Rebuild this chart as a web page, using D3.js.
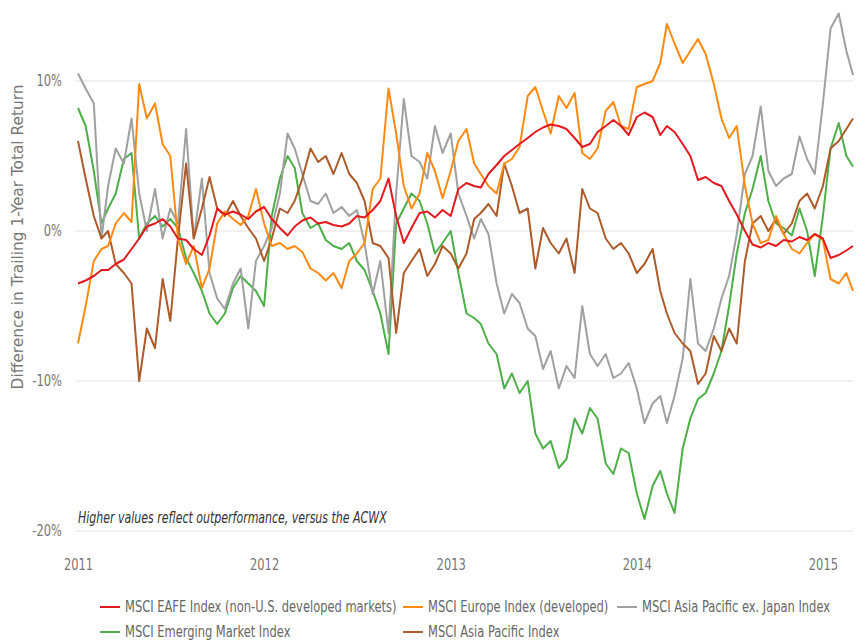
<!DOCTYPE html>
<html>
<head>
<meta charset="utf-8">
<script src="https://cdn.jsdelivr.net/npm/d3@7"></script>
<style>
  body { margin: 0; background: #fff; }
  svg text { font-family: "DejaVu Sans Condensed", "DejaVu Sans", sans-serif; }
</style>
</head>
<body>
<div id="chart"></div>
<script>
var svgWidth = 856;
var svgHeight = 642;

// semi-monthly observation dates, 2011-01-01 .. 2015-03-01
var dates = d3.range(101).map(function(k) {
  var m = Math.floor(k / 2);
  return new Date(2011 + Math.floor(m / 12), m % 12, k % 2 ? 16 : 1);
});

var eafe = [-3.5,-3.3,-3.0,-2.6,-2.6,-2.2,-1.9,-1.2,-0.5,0.3,0.5,0.8,0.3,-0.5,-0.6,-1.2,-1.6,-0.3,1.5,1.1,
  1.3,1.1,0.8,1.3,1.6,0.8,0.2,-0.3,0.3,0.7,0.9,0.5,0.6,0.4,0.3,0.5,1.0,0.9,1.4,2.0,
  3.5,1.0,-0.8,0.2,1.2,1.3,0.9,1.4,1.0,2.8,3.2,3.0,2.9,3.8,4.4,5.0,5.4,5.8,6.2,6.6,
  6.9,7.1,7.0,6.8,6.2,5.6,5.8,6.6,7.0,7.4,7.0,6.4,7.6,7.9,7.6,6.4,7.0,6.6,5.8,5.0,
  3.4,3.6,3.2,3.0,2.0,1.1,0.0,-0.9,-1.1,-0.8,-1.0,-0.6,-0.7,-0.4,-0.6,-0.2,-0.5,-1.8,-1.6,-1.3,-1.0];

var europe = [-7.5,-5.0,-2.0,-1.2,-1.0,0.5,1.2,0.6,9.8,7.5,8.5,5.8,5.0,-0.5,-2.2,-1.0,-3.8,-2.5,0.5,1.3,
  0.8,0.4,1.0,2.8,0.5,-1.0,-0.8,-1.2,-1.0,-1.4,-2.5,-2.8,-3.3,-2.8,-3.8,-2.0,-1.5,-0.8,2.8,3.5,
  9.5,6.5,3.0,1.5,2.5,5.2,4.0,2.2,4.0,6.0,6.8,4.5,3.8,3.0,2.5,4.5,4.8,5.6,9.0,9.6,
  8.0,6.5,9.0,8.2,9.2,5.2,4.8,5.5,8.0,8.6,7.0,6.8,9.6,9.8,10.0,11.2,13.8,12.5,11.2,12.0,
  12.8,11.8,9.8,7.5,6.2,7.0,3.0,0.5,-0.8,-0.6,1.0,-0.2,-1.2,-1.5,-0.8,-0.2,-0.6,-3.2,-3.5,-2.8,-4.0];

var apexJapan = [10.5,9.5,8.5,-0.5,3.0,5.5,4.5,7.5,2.5,0.0,2.8,-0.5,1.5,0.5,6.8,-0.5,3.5,-2.8,-4.5,-5.2,
  -3.5,-2.5,-6.5,-2.0,-1.0,0.2,2.5,6.5,5.5,3.8,2.0,1.8,2.5,1.2,1.6,1.0,1.4,-0.8,-4.2,-2.0,
  -6.8,2.5,8.8,5.0,4.6,3.5,7.0,5.2,6.5,2.5,1.0,-0.5,0.8,-0.2,-3.5,-5.5,-4.2,-4.8,-6.5,-7.0,
  -9.2,-8.0,-10.5,-9.0,-9.8,-5.0,-8.2,-9.0,-8.2,-9.8,-9.5,-8.8,-10.5,-12.8,-11.5,-11.0,-12.8,-11.0,-8.5,-3.2,
  -7.5,-8.0,-6.5,-4.5,-3.0,-0.2,3.8,5.0,8.3,4.0,3.0,3.5,3.8,6.3,4.8,3.8,8.5,13.5,14.5,12.0,10.4];

var emerging = [8.2,7.0,4.0,0.5,1.5,2.5,4.8,5.2,-0.5,0.5,1.0,0.3,0.8,0.2,-1.8,-2.8,-4.0,-5.5,-6.2,-5.5,
  -3.8,-3.0,-3.5,-4.0,-5.0,1.0,3.5,5.0,4.2,1.2,0.2,0.5,-0.6,-1.0,-1.2,-0.8,-2.0,-2.6,-4.0,-5.5,
  -8.2,0.5,1.5,2.5,2.0,0.5,-1.5,-0.8,0.0,-2.8,-5.5,-5.8,-6.2,-7.5,-8.2,-10.5,-9.5,-10.8,-10.0,-13.5,
  -14.5,-14.0,-15.8,-15.2,-12.5,-13.5,-11.8,-12.5,-15.5,-16.2,-14.5,-14.8,-17.5,-19.2,-17.0,-16.0,-17.5,-18.8,-14.5,-12.5,
  -11.2,-10.8,-9.5,-8.0,-5.0,-1.5,1.2,2.8,5.0,2.0,0.5,0.2,-0.3,1.5,0.0,-3.0,1.0,5.5,7.2,5.0,4.3];

var asiaPacific = [6.0,3.5,1.0,-0.5,0.0,-2.2,-2.8,-3.5,-10.0,-6.5,-7.8,-3.2,-6.0,-0.5,4.5,-0.5,1.5,3.6,1.5,1.0,
  2.0,1.0,0.2,-0.5,-2.0,-0.5,1.5,1.2,2.0,3.5,5.5,4.6,5.0,3.8,5.2,3.8,3.2,2.0,-0.8,-1.0,
  -1.8,-6.8,-2.8,-2.0,-1.2,-3.0,-2.2,-1.0,-1.5,-2.5,-1.5,0.8,1.2,1.8,1.0,4.5,3.0,1.2,1.5,-2.5,
  0.2,-0.8,-1.5,-0.5,-2.8,2.8,1.5,1.2,-0.5,-1.2,-0.8,-1.5,-2.8,-2.2,-1.2,-4.0,-5.5,-6.8,-7.5,-8.0,
  -10.2,-9.5,-7.0,-8.0,-6.5,-7.5,-2.0,0.5,1.0,0.0,0.8,-0.2,0.5,2.0,2.5,1.5,3.0,5.5,6.0,6.8,7.5];

var seriesNames = [
  "MSCI EAFE Index (non-U.S. developed markets)",
  "MSCI Europe Index (developed)",
  "MSCI Asia Pacific ex. Japan Index",
  "MSCI Emerging Market Index",
  "MSCI Asia Pacific Index"
];
var seriesValues = [eafe, europe, apexJapan, emerging, asiaPacific];
var seriesColors = ["#e3191e", "#ff8a12", "#a0a0a0", "#4caf48", "#ad5b2b"];
var drawOrder = [3, 2, 4, 1, 0];

var yTicks = [-20, -10, 0, 10];
var xTicks = [2011, 2012, 2013, 2014, 2015];

var svg = d3.select("#chart").append("svg")
  .attr("width", svgWidth)
  .attr("height", svgHeight);

var x = d3.scaleTime()
  .domain([new Date(2011, 0, 1), new Date(2015, 2, 1)])
  .range([78, 853]);

var y = d3.scaleLinear()
  .domain([-20, 15])
  .range([531, 6]);

// squeeze a text horizontally (the reference uses a condensed face)
function squeeze(sel, f) {
  sel.each(function() {
    var t = d3.select(this);
    var tx = +t.attr("x") || 0;
    t.attr("x", 0).attr("transform", `translate(${tx},0) scale(${f},1)`);
  });
}

// gridlines
svg.append("g").selectAll("line")
  .data(yTicks)
  .enter()
  .append("line")
  .attr("x1", 76)
  .attr("x2", 853)
  .attr("y1", d => y(d))
  .attr("y2", d => y(d))
  .attr("stroke", "#e2e2e2")
  .attr("stroke-width", 1);

// legend first, so its squeeze factor can be reused for the tick labels
var legendPos = [[100, 607], [403, 607], [617, 607], [100, 632], [403, 632]];
var legend = svg.append("g").selectAll("g")
  .data(seriesNames)
  .enter()
  .append("g")
  .attr("transform", (d, i) => `translate(${legendPos[i][0]}, ${legendPos[i][1]})`);

legend.append("line")
  .attr("x1", 0)
  .attr("x2", 20)
  .attr("stroke", (d, i) => seriesColors[i])
  .attr("stroke-width", 2);

var legendText = legend.append("text")
  .attr("x", 25)
  .attr("dy", "0.36em")
  .attr("fill", "#666")
  .style("font-size", "15px")
  .text(d => d);

var f = 272 / legendText.node().getComputedTextLength();
squeeze(legendText, f);

// axes
var leftAxis = d3.axisLeft(y)
  .tickValues(yTicks)
  .tickSize(0)
  .tickPadding(0)
  .tickFormat(d => d + "%");

var gy = svg.append("g")
  .attr("transform", "translate(62,0)")
  .call(leftAxis);
gy.select(".domain").remove();
gy.selectAll("text").attr("fill", "#777").style("font-size", "15px");
squeeze(gy.selectAll("text"), f);

var bottomAxis = d3.axisBottom(x)
  .tickValues(xTicks.map(yr => new Date(yr, 0, 1)))
  .tickSize(0)
  .tickPadding(3)
  .tickFormat(d3.timeFormat("%Y"));

var gx = svg.append("g")
  .attr("transform", "translate(0,556)")
  .call(bottomAxis);
gx.select(".domain").remove();
gx.selectAll("text").attr("fill", "#777").style("font-size", "15px");
squeeze(gx.selectAll("text"), f);

// lines
var line = d3.line()
  .x((d, i) => x(dates[i]))
  .y(d => y(d));

drawOrder.forEach(function(s) {
  svg.append("path")
    .datum(seriesValues[s])
    .attr("fill", "none")
    .attr("stroke", seriesColors[s])
    .attr("stroke-width", 2)
    .attr("stroke-linejoin", "round")
    .attr("d", line);
});

// y axis title
var title = svg.append("text")
  .attr("text-anchor", "middle")
  .attr("fill", "#777")
  .style("font-size", "15px")
  .text("Difference in Trailing 1-Year Total Return");
var tf = 305 / title.node().getComputedTextLength();
title.attr("transform", `translate(23,237) rotate(-90) scale(${tf},1)`);

// note
var note = svg.append("text")
  .attr("x", 78)
  .attr("y", 523)
  .attr("fill", "#333")
  .style("font-size", "15px")
  .style("font-style", "italic")
  .text("Higher values reflect outperformance, versus the ACWX");
squeeze(note, 309 / note.node().getComputedTextLength());
</script>
</body>
</html>
